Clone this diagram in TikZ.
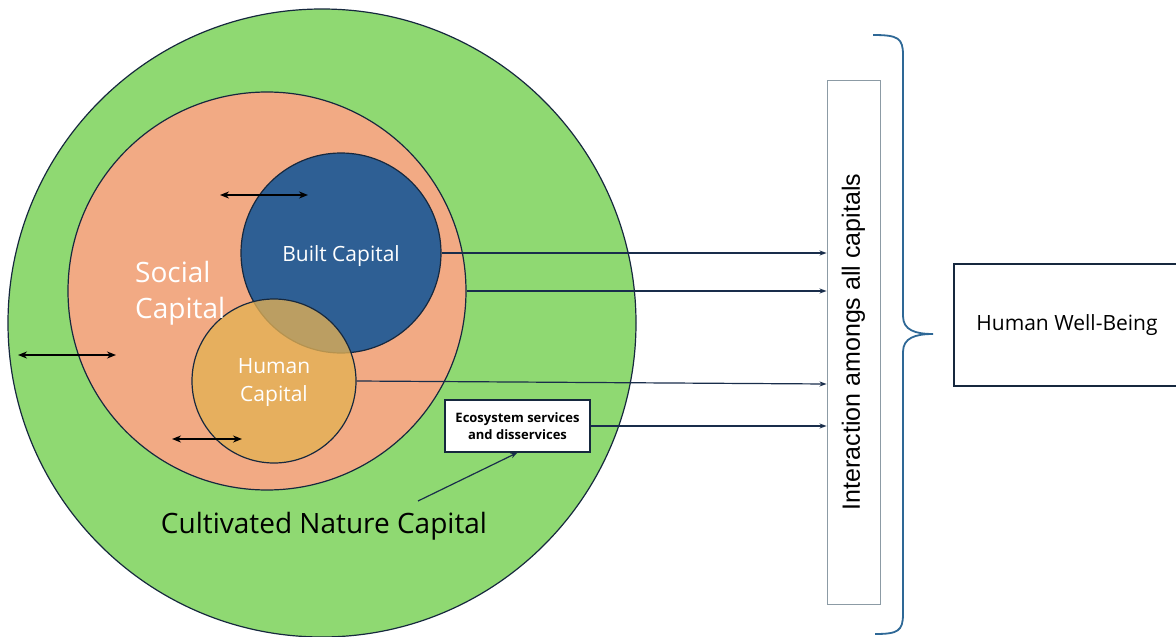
\documentclass[tikz,border=0pt]{standalone}
\usepackage{fontspec}
\setmainfont{Open Sans}
\newfontfamily\arialfont{Liberation Sans}
\usetikzlibrary{arrows.meta}

\definecolor{natgreen}{RGB}{143,217,114}
\definecolor{socsalmon}{RGB}{242,170,132}
\definecolor{builtblue}{RGB}{46,95,148}
\definecolor{humanorange}{RGB}{227,177,84}
\definecolor{rimnavy}{RGB}{22,40,62}
\definecolor{linknavy}{RGB}{25,45,75}
\definecolor{braceblue}{RGB}{46,104,150}
\definecolor{boxgray}{RGB}{140,155,165}

\tikzset{
	capital/.style={circle, draw=rimnavy, line width=1.2pt, inner sep=0pt},
	whitelbl/.style={white, inner sep=0pt},
	link/.style={draw=linknavy, line width=1.2pt, -{Stealth[length=7pt,width=5pt]}},
	twoway/.style={black, line width=1.8pt, {Stealth[length=9pt,width=7pt]}-{Stealth[length=9pt,width=7pt]}},
	ecobox/.style={draw=rimnavy, fill=white, line width=1.3pt, minimum width=145pt, minimum height=52pt, align=center, inner sep=0pt, font=\bfseries\fontsize{13}{17}\selectfont},
	interbox/.style={draw=boxgray, line width=0.9pt, minimum width=53pt, minimum height=524pt},
	wellbox/.style={draw=rimnavy, line width=1.5pt, minimum width=226pt, minimum height=122pt, inner sep=0pt},
}

\begin{document}
\begin{tikzpicture}[x=1pt,y=-1pt]
		%%%%% START %%%%%
		\useasboundingbox (0,0) rectangle (1176,637);
		
		\node[capital, fill=natgreen, minimum size=628pt] (nature) at (322,323) {};
		\node[capital, fill=socsalmon, minimum size=398pt] (social) at (267,291) {};
		\node[capital, fill=builtblue, minimum size=200pt] (built) at (341,253) {};
		\node[capital, fill=humanorange, fill opacity=0.78, minimum size=164pt] (human) at (274,381) {};
		
		\node[whitelbl, anchor=west, align=left, font=\fontsize{28}{36}\selectfont] (sociallbl) at (135,293) {Social\\Capital};
		\node[whitelbl, anchor=base, font=\fontsize{21}{27}\selectfont] (builtlbl) at (341,261) {Built Capital};
		\node[whitelbl, align=center, font=\fontsize{21}{28}\selectfont] (humanlbl) at (274,383) {Human\\Capital};
		\node[anchor=base, inner sep=0pt, font=\fontsize{28}{30}\selectfont] (naturelbl) at (324,533) {Cultivated Nature Capital};
		
		\node[ecobox] (eco) at (517.5,426) {Ecosystem services\\and disservices};
		
		\node[interbox] (inter) at (853.5,342) {};
		\node[rotate=90, inner sep=0pt, font=\arialfont\fontsize{25}{28}\selectfont] (interlbl) at (inter) {Interaction amongs all capitals};
		
		\node[wellbox, font=\fontsize{21}{24}\selectfont] (wellbeing) at (1067,325) {Human Well-Being};
		
		% links into the interaction box
		\draw[link] (built.east) -- (built.east -| inter.west);
		\draw[link] (social.east) -- (social.east -| inter.west);
		\draw[link] (human.east) -- ([yshift=-3pt]human.east -| inter.west);
		\draw[link] (eco.east) -- (eco.east -| inter.west);
		
		\coordinate (pointtail) at (418,501);
		\draw[link] (pointtail) -- (eco.south);
		
		% two-way arrows
		\coordinate (bl) at (220,195);
		\coordinate (br) at (308,195);
		\coordinate (nl) at (18,355);
		\coordinate (nr) at (116,355);
		\coordinate (hl) at (172,439);
		\coordinate (hr) at (242,439);
		\draw[twoway] (bl) -- (br);
		\draw[twoway] (nl) -- (nr);
		\draw[twoway] (hl) -- (hr);
		
		% brace
		\draw[braceblue, line width=1.8pt] (873,35) .. controls (898,35) and (903,38) .. (903,55) -- (903,316)
			.. controls (903,330) and (915,334) .. (933,334) .. controls (915,334) and (903,338) .. (903,352)
			-- (903,614) .. controls (903,631) and (898,634) .. (875,634);
		
		%%%%% END %%%%%
\end{tikzpicture}
\end{document}
